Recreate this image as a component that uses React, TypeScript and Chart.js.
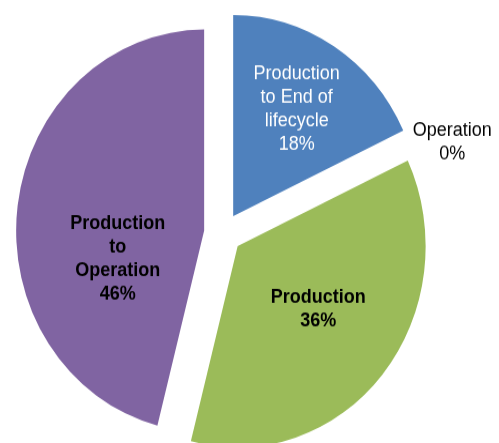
import { useEffect, useRef } from 'react';
import { Chart, registerables } from 'chart.js';

Chart.register(...registerables);

// ---- data ----
const categories = [
  'Production to End of lifecycle',
  'Operation',
  'Production',
  'Production to Operation',
];
const categoryLines = [
  ['Production', 'to End of', 'lifecycle'],
  ['Operation'],
  ['Production'],
  ['Production', 'to', 'Operation'],
];
const shares = [18, 0, 36, 46];
const percentLabels = ['18%', '0%', '36%', '46%'];

// ---- styles ----
const colors = ['#4F81BD', '#F79646', '#9BBB59', '#8064A2'];
const labelColors = ['#FFFFFF', '#000000', '#000000', '#000000'];
const labelBold = [false, false, true, true];
// [angle shift from mid-angle in degrees, fraction of radius]
const labelPlace: [number, number][] = [
  [0, 0.63],
  [5.3, 1.2],
  [-3.7, 0.53],
  [-24, 0.48],
];
const EXPLODE = 19;
const STRETCH = 1.07;
const LINE_H = 22;
const FONT_PX = 18;

const explodePlugin = {
  id: 'explodeSlices',
  afterDatasetsUpdate(chart: any) {
    const meta = chart.getDatasetMeta(0);
    meta.data.forEach((arc: any) => {
      const mid = (arc.startAngle + arc.endAngle) / 2;
      arc.x += Math.cos(mid) * EXPLODE;
      arc.y += Math.sin(mid) * EXPLODE;
    });
  },
};

const labelPlugin = {
  id: 'sliceLabels',
  afterDatasetsDraw(chart: any) {
    const ctx = chart.ctx as CanvasRenderingContext2D;
    const meta = chart.getDatasetMeta(0);
    ctx.save();
    ctx.textAlign = 'center';
    ctx.textBaseline = 'middle';
    meta.data.forEach((arc: any, i: number) => {
      const mid = (arc.startAngle + arc.endAngle) / 2 + (labelPlace[i][0] * Math.PI) / 180;
      const r = arc.outerRadius * labelPlace[i][1];
      const x = arc.x + Math.cos(mid) * r;
      const y = arc.y + Math.sin(mid) * r;
      const lines = [...categoryLines[i], percentLabels[i]];
      ctx.fillStyle = labelColors[i];
      ctx.font = `${labelBold[i] ? 'bold ' : ''}${FONT_PX}px "Liberation Sans", Arial, sans-serif`;
      const top = y - ((lines.length - 1) * LINE_H) / 2;
      lines.forEach((t, j) => ctx.fillText(t, x, top + j * LINE_H));
    });
    ctx.restore();
  },
};

export default function App() {
  const ref = useRef<HTMLCanvasElement>(null);
  useEffect(() => {
    const chart = new Chart(ref.current!, {
      type: 'pie',
      data: {
        labels: categories,
        datasets: [
          {
            data: shares,
            backgroundColor: colors,
            borderWidth: 0,
            radius: 188,
          } as any,
        ],
      },
      options: {
        responsive: false,
        animation: false,
        layout: { padding: { left: 0, top: 0, bottom: 0, right: 53 } },
        plugins: { legend: { display: false }, tooltip: { enabled: false } },
      },
      plugins: [explodePlugin, labelPlugin],
    });
    return () => chart.destroy();
  }, []);
  return (
    <div
      style={{
        position: 'fixed',
        left: 0,
        top: 0,
        width: '100vw',
        height: '100vh',
        overflow: 'hidden',
        background: '#ffffff',
      }}
    >
      <div
        style={{
          position: 'absolute',
          left: 0,
          top: 0,
          transform: `scaleY(${STRETCH})`,
          transformOrigin: '0 0',
        }}
      >
        <canvas ref={ref} width={499} height={436} style={{ display: 'block' }} />
      </div>
    </div>
  );
}
